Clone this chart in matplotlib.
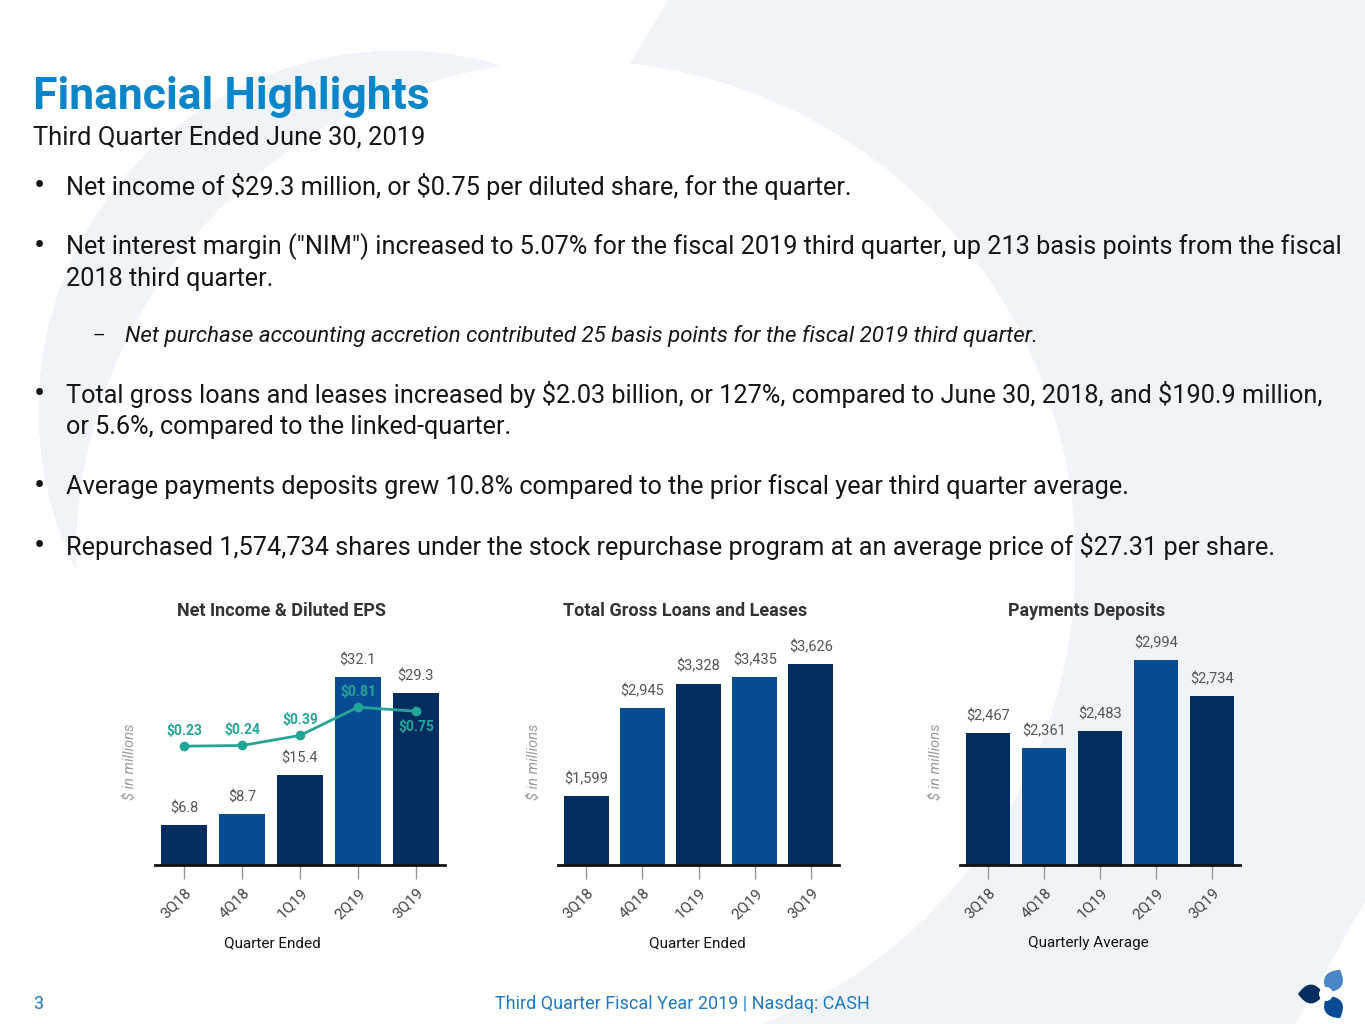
import matplotlib
matplotlib.use("Agg")
import matplotlib.pyplot as plt
from matplotlib.path import Path
from matplotlib.patches import PathPatch
import numpy as np

# data
quarters = ['3Q18', '4Q18', '1Q19', '2Q19', '3Q19']
net_income = [6.8, 8.7, 15.4, 32.1, 29.3]
diluted_eps = [0.23, 0.24, 0.39, 0.81, 0.75]
gross_loans = [1599, 2945, 3328, 3435, 3626]
payments_deposits = [2467, 2361, 2483, 2994, 2734]

DARK = '#032d5f'
MED = '#074c93'
LIGHTBLUE = '#4a86c8'
TEAL = '#25a597'
BLUE_TITLE = '#0a86c8'
GRAY = '#555555'
BG = '#f0f4f9'
bar_colors = [DARK, MED, DARK, MED, DARK]

plt.rcParams['text.parse_math'] = False
plt.rcParams['font.family'] = ['Roboto', 'DejaVu Sans']

W, H = 1365, 1024
fig = plt.figure(figsize=(13.65, 10.24), dpi=100)


def fx(px):
    return px / W


def fy(py):
    return 1 - py / H


# faint background swoosh (large logo shape)
bg = fig.add_axes([0, 0, 1, 1], zorder=-10)
yy, xx = np.mgrid[0:H, 0:W]
in_w = (xx - 575) ** 2 + (yy - 560) ** 2 < 500 ** 2
in_l = (xx - 398) ** 2 + (yy - 410) ** 2 < 360 ** 2
right_part = (xx > 667 - 0.6 * yy) & (xx > 450)
corner = (xx - 1295) * (-124) - (yy - 1024) * 70 < 0
light = (in_l | right_part) & ~in_w & ~corner
img = np.ones((H, W, 3))
img[light] = matplotlib.colors.to_rgb(BG)
bg.imshow(img, extent=(0, W, H, 0), aspect='auto', interpolation='bilinear')
bg.set_xlim(0, W)
bg.set_ylim(H, 0)
bg.axis('off')

# slide text
TXT = '#151515'
fig.text(fx(33), fy(97), 'Financial Highlights', fontsize=32, fontweight='bold',
         color=BLUE_TITLE, va='center')
fig.text(fx(33), fy(138), 'Third Quarter Ended June 30, 2019', fontsize=18.4,
         color=TXT, va='center')

bullets = [
    (187, 'Net income of $29.3 million, or $0.75 per diluted share, for the quarter.'),
    (247, 'Net interest margin ("NIM") increased to 5.07% for the fiscal 2019 third quarter, up 213 basis points from the fiscal'),
    (395, 'Total gross loans and leases increased by $2.03 billion, or 127%, compared to June 30, 2018, and $190.9 million,'),
    (487, 'Average payments deposits grew 10.8% compared to the prior fiscal year third quarter average.'),
    (547, 'Repurchased 1,574,734 shares under the stock repurchase program at an average price of $27.31 per share.'),
]
for y, t in bullets:
    fig.text(fx(34), fy(y), '\u2022', fontsize=24, color=TXT, va='center')
    fig.text(fx(66), fy(y), t, fontsize=18.2, color=TXT, va='center')
fig.text(fx(66), fy(279), '2018 third quarter.', fontsize=18.2, color=TXT, va='center')
fig.text(fx(66), fy(427), 'or 5.6%, compared to the linked-quarter.', fontsize=18.2,
         color=TXT, va='center')
fig.text(fx(93), fy(336), '\u2013', fontsize=14, color=TXT, va='center')
fig.text(fx(125), fy(336),
         'Net purchase accounting accretion contributed 25 basis points for the fiscal 2019 third quarter.',
         fontsize=16, style='italic', color=TXT, va='center')

# footer
fig.text(fx(33), fy(1004), '3', fontsize=13, color='#1f78c1', va='center')
fig.text(fx(682), fy(1004), 'Third Quarter Fiscal Year 2019 | Nasdaq: CASH', fontsize=13,
         color='#1f78c1', va='center', ha='center')


# logo: three leaves round a white centre
def leaf(p1, p2, bulge):
    p1, p2 = np.array(p1, float), np.array(p2, float)
    mid = (p1 + p2) / 2
    d = p2 - p1
    n = np.array([-d[1], d[0]]) / np.hypot(*d)
    c1, c2 = mid + n * bulge, mid - n * bulge
    verts = [p1, c1, p2, c2, p1]
    codes = [Path.MOVETO, Path.CURVE3, Path.CURVE3, Path.CURVE3, Path.CURVE3]
    return Path(verts, codes)


lax = fig.add_axes([0, 0, 1, 1], zorder=-5)
lax.set_xlim(0, W)
lax.set_ylim(H, 0)
lax.axis('off')
cx, cy = 1326, 994
for ang, col in [(180, DARK), (60, LIGHTBLUE), (-60, MED)]:
    a = np.deg2rad(ang)
    u = np.array([np.cos(a), -np.sin(a)])
    p_in = np.array([cx, cy]) + u * 2
    p_out = np.array([cx, cy]) + u * 28
    lax.add_patch(PathPatch(leaf(p_in, p_out, 19), color=col, lw=0))
lax.add_patch(plt.Circle((cx, cy), 7, color='white', lw=0))


def make_chart(left, width, ylim, values, labels, title, xlabel, title_x, xlabel_x, ylabel_x):
    ax = fig.add_axes([fx(left), fy(865), fx(width), 235 / H])
    x = np.arange(len(quarters))
    ax.bar(x, values, width=0.8, color=bar_colors)
    ax.set_xlim(-0.5, 4.5)
    ax.set_ylim(*ylim)
    for xi, v, lab in zip(x, values, labels):
        ax.annotate(lab, (xi, v), xytext=(0, 7), textcoords='offset points',
                    ha='center', va='bottom', fontsize=10.5, color=GRAY)
    for s in ['top', 'right', 'left']:
        ax.spines[s].set_visible(False)
    ax.spines['bottom'].set_linewidth(2)
    ax.spines['bottom'].set_color('#111111')
    ax.set_yticks([])
    ax.set_xticks(x)
    ax.set_xticklabels(quarters, rotation=45, ha='right', va='top', fontsize=11,
                       color='#444444', rotation_mode='anchor')
    ax.tick_params(axis='x', length=10, color='#999999', width=1, pad=5)
    ax.patch.set_alpha(0)
    fig.text(fx(title_x), fy(611), title, fontsize=13, fontweight='bold',
             color='#333333', ha='center', va='center')
    fig.text(fx(xlabel_x), fy(943), xlabel, fontsize=11, color='#111111',
             ha='center', va='center')
    fig.text(fx(ylabel_x), fy(762), '$ in millions', fontsize=10.5, style='italic',
             color='#999999', ha='center', va='center', rotation=90)
    return ax


ax1 = make_chart(155, 290, (0, 40.1), net_income, ['$%.1f' % v for v in net_income],
                 'Net Income & Diluted EPS', 'Quarter Ended', 281, 272, 130)
ax1b = ax1.twinx()
ax1b.set_ylim(-1.54, 1.96)
ax1b.plot(np.arange(5), diluted_eps, color=TEAL, lw=2, marker='o', ms=6)
ax1b.axis('off')
eps_off = [6, 6, 6, 6, -6]
for xi, v, off in zip(range(5), diluted_eps, eps_off):
    ax1b.annotate('$%.2f' % v, (xi, v), xytext=(0, off), textcoords='offset points',
                  ha='center', va='bottom' if off > 0 else 'top', fontsize=10,
                  color=TEAL, fontweight='bold')

make_chart(558, 281, (540, 4150), gross_loans, ['${:,}'.format(v) for v in gross_loans],
           'Total Gross Loans and Leases', 'Quarter Ended', 685, 697, 535)
make_chart(960, 280, (1518, 3209), payments_deposits, ['${:,}'.format(v) for v in payments_deposits],
           'Payments Deposits', 'Quarterly Average', 1087, 1088, 937)

fig.savefig('out.png', dpi=100)
